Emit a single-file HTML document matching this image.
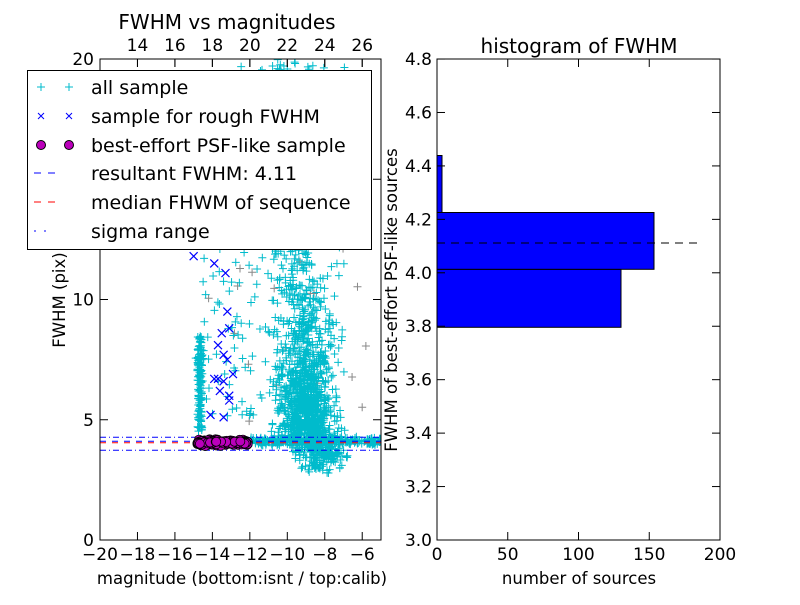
<!DOCTYPE html>
<html><head><meta charset="utf-8"><style>
body{margin:0;background:#fff;}
svg text{font-family:"DejaVu Sans","Liberation Sans",sans-serif;fill:#000;}
</style></head><body>
<svg id="s" width="800" height="600" xmlns="http://www.w3.org/2000/svg">
<rect width="800" height="600" fill="#fff"/>
<defs><clipPath id="cl"><rect x="100" y="59" width="281" height="481"/></clipPath></defs>
<g id="pts" clip-path="url(#cl)"></g>
<g clip-path="url(#cl)">
<line x1="100" y1="437.3" x2="381" y2="437.3" stroke="#00f" stroke-dasharray="6,3,1,3"/>
<line x1="100" y1="450.3" x2="381" y2="450.3" stroke="#00f" stroke-dasharray="6,3,1,3"/>
<line x1="100" y1="441.3" x2="381" y2="441.3" stroke="#00f" stroke-dasharray="6,6"/>
<line x1="100" y1="442.7" x2="381" y2="442.7" stroke="#f00" stroke-dasharray="6,6"/>
</g>
<g id="mg" clip-path="url(#cl)"></g>
<rect x="100" y="59" width="281" height="481" fill="none" stroke="#000"/>
<g id="lt" stroke="#000"></g>
<g id="tl"></g>
<text x="227" y="29" font-size="20" text-anchor="middle">FWHM vs magnitudes</text>
<text x="242" y="584" font-size="16.5" text-anchor="middle">magnitude (bottom:isnt / top:calib)</text>
<text transform="translate(65,300) rotate(-90)" font-size="16.5" text-anchor="middle">FWHM (pix)</text>
<rect x="437" y="269.3" width="184" height="58" fill="#00f" stroke="#000"/>
<rect x="437" y="212.5" width="217" height="56.8" fill="#00f" stroke="#000"/>
<rect x="437" y="155.5" width="5" height="57" fill="#00f" stroke="#000"/>
<line x1="437" y1="243" x2="697" y2="243" stroke="#000" stroke-dasharray="8,6"/>
<rect x="437" y="59" width="283" height="481" fill="none" stroke="#000"/>
<g id="rt" stroke="#000"></g>
<text x="579" y="53" font-size="20" text-anchor="middle">histogram of FWHM</text>
<text x="579" y="584" font-size="16.5" text-anchor="middle">number of sources</text>
<text transform="translate(397,300) rotate(-90)" font-size="16.5" text-anchor="middle">FWHM of best-effort PSF-like sources</text>
<rect x="27.5" y="70.5" width="344" height="179" fill="#fff" stroke="#000"/>
<g font-size="19">
<text x="91" y="94">all sample</text>
<text x="91" y="123">sample for rough FWHM</text>
<text x="91" y="152">best-effort PSF-like sample</text>
<text x="91" y="180">resultant FWHM: 4.11</text>
<text x="91" y="209">median FHWM of sequence</text>
<text x="91" y="238">sigma range</text>
</g>
<g stroke-width="1">
<path d="M37 87h8M41 83v8M65 87h8M69 83v8" stroke="#0bc"/>
<path d="M38 113l6 6M44 113l-6 6M66 113l6 6M72 113l-6 6" stroke="#00f"/>
<circle cx="41" cy="145" r="4.5" fill="#b0b" stroke="#000"/><circle cx="69" cy="145" r="4.5" fill="#b0b" stroke="#000"/>
<path d="M34 173h7M48 173h7" stroke="#00f"/>
<path d="M34 202h7M48 202h7" stroke="#f00"/>
<path d="M34 231h2M44 231h2" stroke="#00f"/>
</g>
</svg>
<script>
var NS="http://www.w3.org/2000/svg";
function el(p,t,a,txt){var e=document.createElementNS(NS,t);for(var k in a)e.setAttribute(k,a[k]);if(txt!==undefined)e.textContent=txt;p.appendChild(e);return e;}
var s=document.getElementById('s');var tl=document.getElementById('tl');
var seed=7;function r(){seed=(seed*16807)%2147483647;return seed/2147483647;}
function g(){return (r()+r()+r()+r()-2)/1.15;}
function X(m){return 100+(m+20)*18.73;}function Y(f){return 540-f*24.05;}
var d1="",d2="",d3="";
function plus(x,y){return "M"+(x-4)+" "+y+"h8M"+x+" "+(y-4)+"v8";}
var i,m,f;
for(i=0;i<900;i++){m=-9+g()*1.3;f=4.3+Math.abs(g())*3+(r()<0.3?r()*5:0);d1+=plus(X(m),Y(f));}
for(i=0;i<250;i++){m=-8.3+g()*1.3;f=3.6+Math.abs(g())*1.5-0.9*r();d1+=plus(X(m),Y(f));}
for(i=0;i<300;i++){m=-12+r()*7;f=4.1+g()*0.15;d1+=plus(X(m),Y(f));}
for(i=0;i<150;i++){m=-14.65+g()*0.15;f=4.5+r()*4;d1+=plus(X(m),Y(f));}
for(i=0;i<220;i++){m=-14.8+r()*8;f=5+r()*15;if(m<-12&&r()<0.5)f=5+r()*8;d1+=plus(X(m),Y(f));}
for(i=0;i<300;i++){m=-9.8+g()*1.2;f=6+r()*14;d1+=plus(X(m),Y(f));}
for(i=0;i<40;i++){m=-14.8+r()*9;f=4+r()*12;d3+=plus(X(m),Y(f));}
var pts=document.getElementById('pts');
el(pts,'path',{d:d3,stroke:'#888','stroke-width':1,fill:'none'});
el(pts,'path',{d:d1,stroke:'#0bc','stroke-width':1,fill:'none'});
var bx=[[-15,11.8],[-13.9,11.5],[-13.3,11.1],[-13.2,9.5],[-13.5,8.6],[-13.1,8.8],[-13.7,8.1],[-13.4,7.7],[-13.2,7.5],[-12.9,6.9],[-13.9,6.7],[-13.7,6.7],[-13.4,6.6],[-13.1,6],[-13.1,5.8],[-14.1,5.2],[-13.4,5.1],[-13.6,6.2]];
bx.forEach(function(p){var x=X(p[0]),y=Y(p[1]);d2+="M"+(x-4)+" "+(y-4)+"l8 8M"+(x+4)+" "+(y-4)+"l-8 8";});
el(pts,'path',{d:d2,stroke:'#00f','stroke-width':1.2,fill:'none'});
var mg=document.getElementById('mg');
for(i=0;i<260;i++){m=-14.8+r()*2.7;f=4.05+g()*0.1;el(mg,'circle',{cx:X(m),cy:Y(f),r:4.5,fill:'#b0b',stroke:'#000','stroke-width':0.8});}
var lt=document.getElementById('lt');
for(m=-20;m<=-6;m+=2){var x=X(m);el(lt,'line',{x1:x,y1:540,x2:x,y2:532});el(lt,'line',{x1:x,y1:59,x2:x,y2:67});el(tl,'text',{x:x,y:560,'font-size':17,'text-anchor':'middle'},"\u2212"+(-m));}
for(var c=14;c<=26;c+=2){var x=X(c-32);el(lt,'line',{x1:x,y1:59,x2:x,y2:67});el(tl,'text',{x:x,y:51,'font-size':17,'text-anchor':'middle'},c);}
[0,5,10,15,20].forEach(function(v){var y=Y(v);el(lt,'line',{x1:100,y1:y,x2:108,y2:y});el(lt,'line',{x1:381,y1:y,x2:373,y2:y});el(tl,'text',{x:94,y:y+6,'font-size':17,'text-anchor':'end'},v);});
var rt=document.getElementById('rt');
for(i=0;i<=9;i++){var v=3+i*0.2,y=540-i*0.2*267.2;el(rt,'line',{x1:437,y1:y,x2:445,y2:y});el(rt,'line',{x1:720,y1:y,x2:712,y2:y});el(tl,'text',{x:432,y:y+6,'font-size':17,'text-anchor':'end'},v.toFixed(1));}
[0,50,100,150,200].forEach(function(v){var x=437+v*1.415;el(rt,'line',{x1:x,y1:540,x2:x,y2:532});el(rt,'line',{x1:x,y1:59,x2:x,y2:67});el(tl,'text',{x:x,y:560,'font-size':17,'text-anchor':'middle'},v);});
</script>
</body></html>
